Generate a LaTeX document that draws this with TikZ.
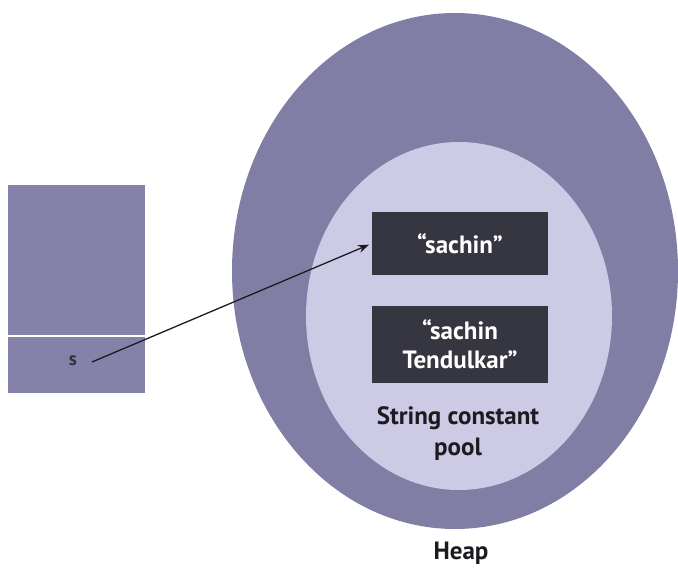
\documentclass[tikz,border=0pt]{standalone}
\usepackage{fontspec}
\setmainfont{PT Sans}
\usetikzlibrary{arrows.meta}

\definecolor{heapfill}{RGB}{128,126,164}
\definecolor{poolfill}{RGB}{204,202,228}
\definecolor{boxfill}{RGB}{54,54,64}
\definecolor{stackfill}{RGB}{132,130,168}
\definecolor{inkdark}{RGB}{28,28,32}

\tikzset{
  strbox/.style={fill=boxfill, text=white, font=\fontsize{25}{29}\selectfont\bfseries,
    minimum width=176pt, align=center, inner sep=0pt},
  label text/.style={text=inkdark, font=\fontsize{25}{31}\selectfont\bfseries, align=center},
  stackcell/.style={fill=stackfill, minimum width=137pt, inner sep=0pt},
  pointer/.style={-{Stealth[length=11pt,width=8pt]}, line width=1.3pt, draw=inkdark, shorten >=3pt}
}

\begin{document}
\begin{tikzpicture}[x=1pt,y=-1pt]
  \useasboundingbox (0,0) rectangle (678,570);
  \fill[white] (0,0) rectangle (678,570);

  % heap and the string constant pool inside it
  \fill[heapfill] (455,271) ellipse [x radius=223, y radius=258];
  \fill[poolfill] (459,316) ellipse [x radius=153, y radius=174];

  % string literals in the pool
  \node[strbox, minimum height=63pt] (lit1) at (460,243.5) {“sachin”};
  \node[strbox, minimum height=77pt] (lit2) at (460,344.5) {“sachin\\Tendulkar”};

  \node[label text] (pool) at (458,434) {String constant\\pool};
  \node[label text] (heap) at (461,553) {Heap};

  % stack frame with the reference variable s
  \node[stackcell, minimum height=151pt] (frame) at (76.5,260.5) {};
  \node[stackcell, minimum height=57pt] (slot) at (76.5,364.5) {};
  \draw[white, line width=1.6pt] (slot.north west) -- (slot.north east);
  \node[text=inkdark!90, font=\fontsize{19}{22}\selectfont\bfseries] (sref) at (73,361) {s};
  \coordinate (sout) at (92,362);

  \draw[pointer] (sout) -- (lit1.west);
\end{tikzpicture}
\end{document}
